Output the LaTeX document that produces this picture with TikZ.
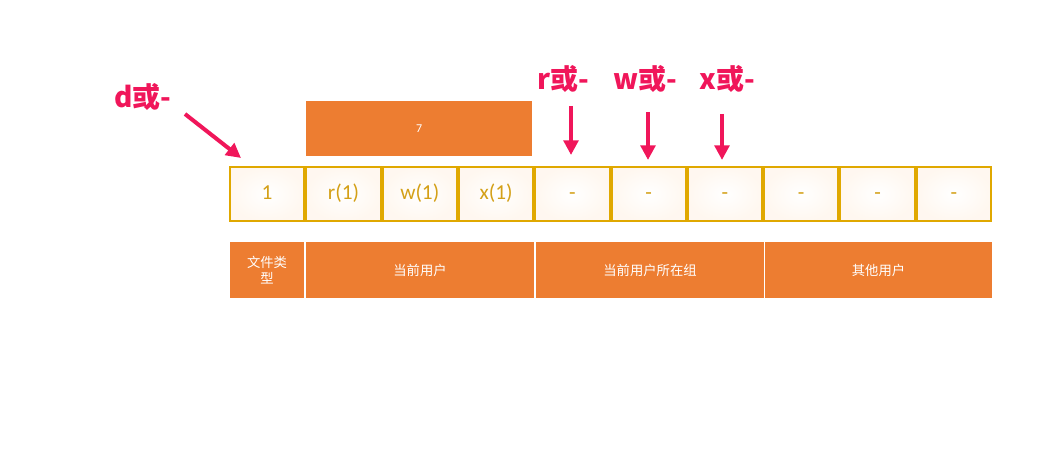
\documentclass[tikz,border=0pt]{standalone}
\usepackage{fontspec}
\setmainfont{Carlito}
\newfontfamily\cjk{Noto Sans CJK SC}
\usetikzlibrary{arrows.meta}
\definecolor{org}{HTML}{ED7D31}
\definecolor{gold}{HTML}{E0A800}
\definecolor{goldtxt}{HTML}{D4A017}
\definecolor{pinky}{HTML}{F0165A}
\begin{document}
\begin{tikzpicture}[x=0.75pt,y=-0.75pt,
  cell/.style={draw=gold,line width=1.5pt,inner color=white,outer color=orange!6,text=goldtxt,font=\fontsize{16}{16}\selectfont,text height=11pt,text depth=3pt},
  obox/.style={fill=org,draw=white,line width=0.8pt,text=white,font=\cjk\fontsize{10}{12}\selectfont,align=center},
  lab/.style={text=pinky,font=\cjk\bfseries\fontsize{21}{21}\selectfont},
  parr/.style={pinky,line width=3pt,-{Triangle[length=11pt,width=11pt]}}]
\useasboundingbox (0,0) rectangle (1062,452);
\foreach \t [count=\i from 0] in {1,r(1),w(1),x(1),-,-,-,-,-,-}{
  \node[cell,minimum width=76.3*0.75pt-1.5pt,minimum height=42pt-1.5pt,anchor=north west] (c\i) at (229+76.3*\i,166) {\t};
}
\node[obox,minimum width=227*0.75pt,minimum height=56*0.75pt,anchor=north west,font=\fontsize{9}{9}\selectfont] (seven) at (305,100) {7};
\node[obox,minimum width=75*0.75pt,minimum height=57*0.75pt,anchor=north west] (b0) at (229,241) {文件类\\型};
\node[obox,minimum width=229*0.75pt,minimum height=57*0.75pt,anchor=north west] (b1) at (305,241) {当前用户};
\node[obox,minimum width=229*0.75pt,minimum height=57*0.75pt,anchor=north west] (b2) at (535,241) {当前用户所在组};
\node[obox,minimum width=228*0.75pt,minimum height=57*0.75pt,anchor=north west] (b3) at (764,241) {其他用户};
\node[lab] (ld) at (143,97) {d或-};
\node[lab] (lr) at (563,79) {r或-};
\node[lab] (lw) at (645,79) {w或-};
\node[lab] (lx) at (727,79) {x或-};
\coordinate (td) at (241,158);
\coordinate (tr) at (571,155);
\coordinate (tw) at (648,160);
\coordinate (tx) at (722,160);
\draw[parr] (185,114) -- (td);
\draw[parr] (571,106) -- (tr);
\draw[parr] (648,112) -- (tw);
\draw[parr] (722,114) -- (tx);
\end{tikzpicture}
\end{document}
